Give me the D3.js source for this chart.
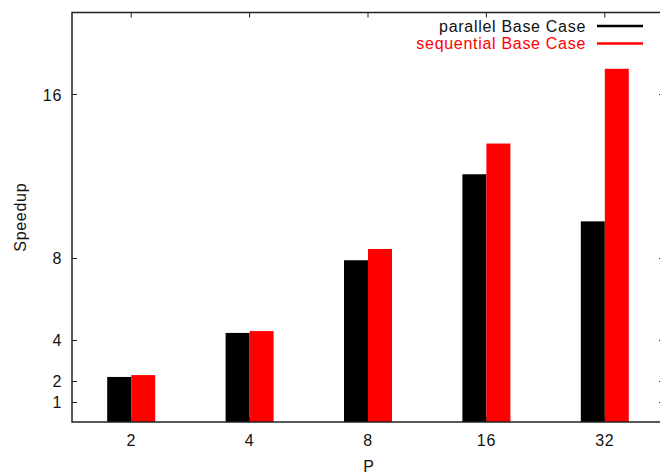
<!DOCTYPE html>
<html>
<head>
<meta charset="utf-8">
<script src="https://cdn.jsdelivr.net/npm/d3@7"></script>
<style>
  html, body { margin: 0; padding: 0; background: #fff; }
  svg { display: block; }
  text { font-family: "Liberation Sans", Arial, Helvetica, sans-serif; font-size: 16px; letter-spacing: 0.7px; }
</style>
</head>
<body>
<svg id="chart" width="660" height="474"></svg>
<script>
// Processor counts on the x axis
const categories = ["2", "4", "8", "16", "32"];
// Speedup measured for each base-case variant
const parallelBase = [2.2, 4.35, 7.9, 12.1, 9.8];
const sequentialBase = [2.29, 4.44, 8.45, 13.6, 17.25];
// Tick values shown on the speedup axis
const yTicks = [1, 2, 4, 8, 16];

const seriesNames = ["parallel Base Case", "sequential Base Case"];
const seriesColors = ["#000000", "#ff0000"];
const seriesValues = [parallelBase, sequentialBase];

const W = 660, H = 474;
const margin = { left: 72, right: -4, top: 12.5, bottom: 52 };
const x0 = margin.left, x1 = W - margin.right;
const yTop = margin.top, yBottom = H - margin.bottom;

const svg = d3.select("#chart");

const x = d3.scaleBand().domain(categories).range([x0, x1]).padding(0);
const xs = d3.scaleBand().domain(seriesNames).range([-24, 24]).padding(0);
const y = d3.scaleLinear().domain([0, 20]).range([yBottom, yTop]);

const tickLen = 5;
const axisColor = "#222";

// Tick marks (inside the frame, mirrored on opposite sides)
const ticks = svg.append("g").attr("stroke", axisColor).attr("stroke-width", 1);
categories.forEach(c => {
  const cx = x(c) + x.bandwidth() / 2;
  ticks.append("line").attr("x1", cx).attr("x2", cx).attr("y1", yBottom).attr("y2", yBottom - tickLen);
  ticks.append("line").attr("x1", cx).attr("x2", cx).attr("y1", yTop).attr("y2", yTop + tickLen);
});
yTicks.forEach(v => {
  const ty = Math.round(y(v)) + 0.5;
  ticks.append("line").attr("x1", x0).attr("x2", x0 + tickLen).attr("y1", ty).attr("y2", ty);
  ticks.append("line").attr("x1", x1).attr("x2", x1 - tickLen).attr("y1", ty).attr("y2", ty);
});

// Bars
const groups = svg.append("g").selectAll("g")
  .data(categories)
  .join("g")
  .attr("transform", c => `translate(${x(c) + x.bandwidth() / 2},0)`);

groups.selectAll("rect")
  .data((c, i) => seriesNames.map((s, k) => ({ s, k, v: seriesValues[k][i] })))
  .join("rect")
  .attr("x", d => xs(d.s))
  .attr("width", xs.bandwidth())
  .attr("y", d => y(d.v))
  .attr("height", d => y(0) - y(d.v))
  .attr("fill", d => seriesColors[d.k]);

// Frame
svg.append("rect")
  .attr("x", x0).attr("y", yTop)
  .attr("width", x1 - x0).attr("height", yBottom - yTop)
  .attr("fill", "none").attr("stroke", axisColor).attr("stroke-width", 1.5);

// Tick labels
const xAxis = d3.axisBottom(x).tickSize(0).tickPadding(0);
const gx = svg.append("g").attr("transform", `translate(0,${yBottom})`).call(xAxis);
gx.select(".domain").remove();
gx.selectAll("text")
  .attr("dy", null).attr("y", 23.5)
  .attr("fill", "#111")
  .style("font-size", "16px")
  .style("font-family", '"Liberation Sans", Arial, sans-serif');

const yAxis = d3.axisLeft(y).tickValues(yTicks).tickSize(0).tickPadding(0);
const gy = svg.append("g").attr("transform", `translate(${x0 - 10},0)`).call(yAxis);
gy.select(".domain").remove();
gy.selectAll("text")
  .attr("dy", "0.36em").attr("x", 0)
  .attr("fill", "#111")
  .style("font-size", "16px")
  .style("font-family", '"Liberation Sans", Arial, sans-serif');

// Axis titles
svg.append("text")
  .attr("x", (x0 + x1) / 2 + 1).attr("y", 471.5)
  .attr("text-anchor", "middle").attr("fill", "#111")
  .text("P");

svg.append("text")
  .attr("transform", `translate(26,${(yTop + yBottom) / 2}) rotate(-90)`)
  .attr("text-anchor", "middle").attr("fill", "#111")
  .text("Speedup");

// Legend
const legend = svg.append("g");
seriesNames.forEach((name, k) => {
  const ly = 26 + k * 17.5;
  legend.append("text")
    .attr("x", 586).attr("y", ly + 5.6)
    .attr("text-anchor", "end")
    .attr("fill", k === 0 ? "#111" : seriesColors[k])
    .text(name);
  legend.append("line")
    .attr("x1", 597).attr("x2", 643)
    .attr("y1", ly).attr("y2", ly)
    .attr("stroke", seriesColors[k]).attr("stroke-width", 2.5);
});
</script>
</body>
</html>
